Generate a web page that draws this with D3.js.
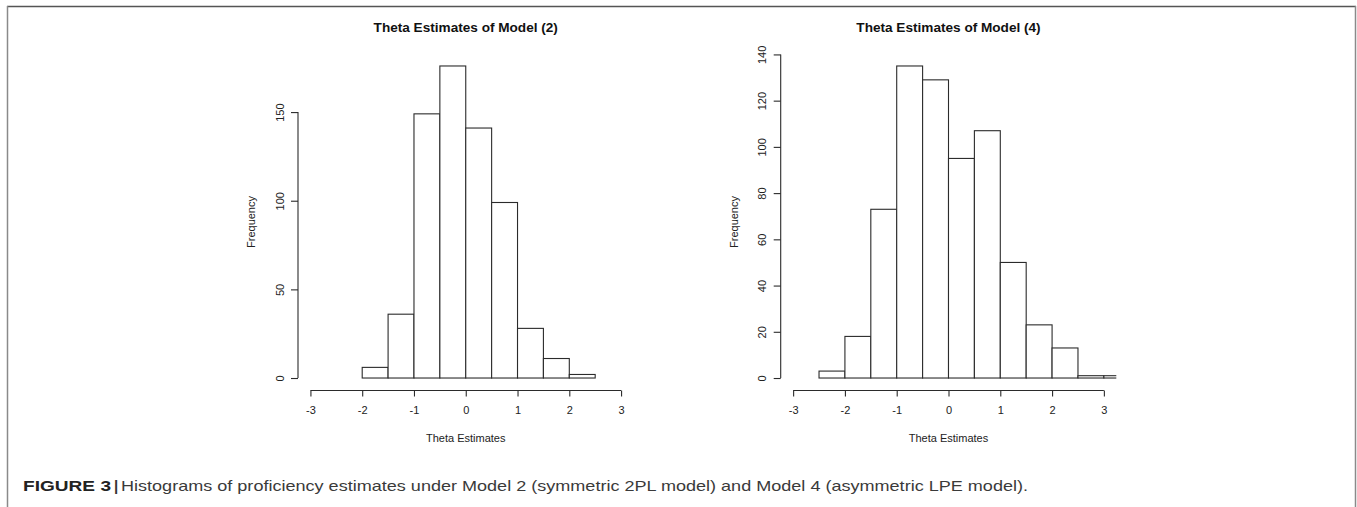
<!DOCTYPE html>
<html>
<head>
<meta charset="utf-8">
<script src="https://cdn.jsdelivr.net/npm/d3@7"></script>
<style>
  body { margin: 0; background: #fff; }
  svg { display: block; }
  text { font-family: "Liberation Sans", Arial, sans-serif; }
</style>
</head>
<body>
<svg id="fig" width="1357" height="507"></svg>
<script>
// Histogram data
const breaksModel2 = [-2, -1.5, -1, -0.5, 0, 0.5, 1, 1.5, 2, 2.5];
const countsModel2 = [6, 36, 149, 176, 141, 99, 28, 11, 2];

const breaksModel4 = [-2.5, -2, -1.5, -1, -0.5, 0, 0.5, 1, 1.5, 2, 2.5, 3, 3.5];
const countsModel4 = [3, 18, 73, 135, 129, 95, 107, 50, 23, 13, 1, 1];

const xTicks = [-3, -2, -1, 0, 1, 2, 3];
const yTicksModel2 = [0, 50, 100, 150];
const yTicksModel4 = [0, 20, 40, 60, 80, 100, 120, 140];

const titles = ["Theta Estimates of Model (2)", "Theta Estimates of Model (4)"];
const xLabel = "Theta Estimates";
const yLabel = "Frequency";
const captionBold = "FIGURE 3";
const captionText = "Histograms of proficiency estimates under Model 2 (symmetric 2PL model) and Model 4 (asymmetric LPE model).";

const svg = d3.select("#fig");
const ink = "#2b2b2b";

// R prints plain hyphen-minus, no decimals
const plainNum = d => String(d);

// Figure frame (top rule and side rules)
svg.append("line")
  .attr("x1", 7).attr("x2", 1356).attr("y1", 6.5).attr("y2", 6.5)
  .attr("stroke", "#555").attr("stroke-width", 1.3);
svg.append("line")
  .attr("x1", 7.5).attr("x2", 7.5).attr("y1", 6).attr("y2", 507)
  .attr("stroke", "#8a8a8a").attr("stroke-width", 1.5);
svg.append("line")
  .attr("x1", 1355.5).attr("x2", 1355.5).attr("y1", 6).attr("y2", 507)
  .attr("stroke", "#8a8a8a").attr("stroke-width", 1.5);

// R-style histogram panel
function drawHist(id, left, right, breaks, counts, yTicks, title) {
  const top = 53.5, bottom = 390.5;
  const ymax = d3.max(counts);

  // xlim = c(-3, 3) plus R's 4% extension
  const x = d3.scaleLinear().domain([-3.24, 3.24]).range([left, right]);
  const y = d3.scaleLinear().domain([-0.04 * ymax, 1.04 * ymax]).range([bottom, top]);

  const g = svg.append("g").attr("class", "panel-" + id);

  g.append("clipPath").attr("id", "clip-" + id)
    .append("rect")
    .attr("x", left).attr("y", top)
    .attr("width", right - left).attr("height", bottom - top);

  const bins = counts.map((c, i) => ({ x0: breaks[i], x1: breaks[i + 1], n: c }));

  g.append("g")
    .attr("clip-path", `url(#clip-${id})`)
    .selectAll("rect")
    .data(bins)
    .enter()
    .append("rect")
    .attr("x", d => x(d.x0))
    .attr("width", d => x(d.x1) - x(d.x0))
    .attr("y", d => y(d.n))
    .attr("height", d => y(0) - y(d.n))
    .attr("fill", "#fff")
    .attr("stroke", ink)
    .attr("stroke-width", 1.1);

  // x axis
  const xAxis = g.append("g")
    .attr("transform", `translate(0,${bottom})`)
    .call(d3.axisBottom(x).tickValues(xTicks).tickFormat(plainNum).tickSize(6).tickSizeOuter(0));
  xAxis.select(".domain").remove();
  xAxis.append("line")
    .attr("x1", x(xTicks[0])).attr("x2", x(xTicks[xTicks.length - 1]))
    .attr("stroke", ink).attr("stroke-width", 1.1);
  xAxis.selectAll(".tick line").attr("stroke", ink).attr("stroke-width", 1.1);
  xAxis.selectAll(".tick text")
    .attr("y", 23.5).attr("dy", 0)
    .attr("fill", "#222")
    .style("font-size", "11px")
    .style("font-family", '"Liberation Sans", Arial, sans-serif');

  // y axis, labels parallel to the axis as in R
  const yAxis = g.append("g")
    .attr("transform", `translate(${left},0)`)
    .call(d3.axisLeft(y).tickValues(yTicks).tickFormat(plainNum).tickSize(7).tickSizeOuter(0));
  yAxis.select(".domain").remove();
  yAxis.append("line")
    .attr("y1", y(yTicks[0])).attr("y2", y(yTicks[yTicks.length - 1]))
    .attr("stroke", ink).attr("stroke-width", 1.1);
  yAxis.selectAll(".tick line").attr("stroke", ink).attr("stroke-width", 1.1);
  yAxis.selectAll(".tick text")
    .attr("transform", "rotate(-90)")
    .attr("x", 0).attr("y", -14.4).attr("dy", 0)
    .attr("text-anchor", "middle")
    .attr("fill", "#222")
    .style("font-size", "11px")
    .style("font-family", '"Liberation Sans", Arial, sans-serif');

  // titles
  g.append("text")
    .attr("x", x(0)).attr("y", 31.5)
    .attr("text-anchor", "middle")
    .attr("font-weight", "bold")
    .attr("font-size", "13.6px")
    .attr("fill", "#111")
    .text(title);

  g.append("text")
    .attr("x", x(0)).attr("y", 442)
    .attr("text-anchor", "middle")
    .attr("font-size", "11px")
    .attr("fill", "#222")
    .text(xLabel);

  g.append("text")
    .attr("transform", `translate(${left - 42.7},${(top + bottom) / 2}) rotate(-90)`)
    .attr("text-anchor", "middle")
    .attr("font-size", "11px")
    .attr("fill", "#222")
    .text(yLabel);
}

drawHist("m2", 298, 633.5, breaksModel2, countsModel2, yTicksModel2, titles[0]);
drawHist("m4", 780.7, 1116.3, breaksModel4, countsModel4, yTicksModel4, titles[1]);

// Caption
svg.append("text")
  .attr("x", 23).attr("y", 490.5)
  .attr("font-size", "15px")
  .attr("font-weight", "bold")
  .attr("fill", "#222")
  .attr("textLength", 88)
  .attr("lengthAdjust", "spacingAndGlyphs")
  .text(captionBold);

svg.append("text")
  .attr("x", 116).attr("y", 490.5)
  .attr("text-anchor", "middle")
  .attr("font-size", "15px")
  .attr("font-weight", "bold")
  .attr("fill", "#333")
  .text("|");

svg.append("text")
  .attr("x", 121).attr("y", 490.5)
  .attr("font-size", "15px")
  .attr("fill", "#3a3a3a")
  .attr("textLength", 907)
  .attr("lengthAdjust", "spacingAndGlyphs")
  .text(captionText);
</script>
</body>
</html>
